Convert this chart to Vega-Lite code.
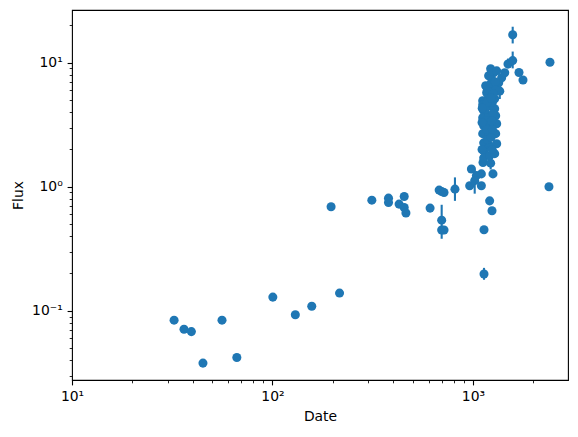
{
  "$schema": "https://vega.github.io/schema/vega-lite/v6.json",
  "width": 496,
  "height": 370,
  "autosize": "none",
  "padding": {"left": 72, "top": 10, "right": 10, "bottom": 57},
  "background": "white",
  "config": {
    "view": {"stroke": "#000000", "strokeWidth": 1.1},
    "axis": {
      "grid": false,
      "domain": false,
      "tickColor": "#000000",
      "tickWidth": 1.1,
      "labelColor": "#000000",
      "labelFont": "DejaVu Sans",
      "labelFontSize": 13.9,
      "titleFont": "DejaVu Sans",
      "titleFontSize": 13.9,
      "titleFontWeight": "normal",
      "titleColor": "#000000"
    }
  },
  "data": {
    "values": [
      {"x": 32.3, "y": 0.0841},
      {"x": 36.2, "y": 0.0711},
      {"x": 39.4, "y": 0.068},
      {"x": 45.0, "y": 0.0379},
      {"x": 56.0, "y": 0.0841},
      {"x": 66.4, "y": 0.042},
      {"x": 100.4, "y": 0.129},
      {"x": 130, "y": 0.093},
      {"x": 157, "y": 0.109},
      {"x": 216, "y": 0.139},
      {"x": 196, "y": 0.69},
      {"x": 313, "y": 0.78},
      {"x": 379, "y": 0.81},
      {"x": 379, "y": 0.746},
      {"x": 428, "y": 0.725},
      {"x": 454, "y": 0.836},
      {"x": 454, "y": 0.68},
      {"x": 463, "y": 0.614},
      {"x": 611, "y": 0.673},
      {"x": 678, "y": 0.94},
      {"x": 698, "y": 0.916},
      {"x": 717, "y": 0.9},
      {"x": 698, "y": 0.538, "lo": 0.381, "hi": 0.716},
      {"x": 698, "y": 0.448},
      {"x": 717, "y": 0.448},
      {"x": 813, "y": 0.957, "lo": 0.77, "hi": 1.19},
      {"x": 982, "y": 1.39},
      {"x": 963, "y": 1.02},
      {"x": 1040, "y": 1.23},
      {"x": 1020, "y": 1.12, "lo": 0.88, "hi": 1.38},
      {"x": 1101, "y": 1.27},
      {"x": 1101, "y": 1.02},
      {"x": 1258, "y": 1.27},
      {"x": 1122, "y": 1.57},
      {"x": 1225, "y": 1.55, "lo": 1.38, "hi": 1.72},
      {"x": 1211, "y": 0.77},
      {"x": 1244, "y": 0.64},
      {"x": 1135, "y": 0.45},
      {"x": 1135, "y": 0.198, "lo": 0.178, "hi": 0.222},
      {"x": 1118, "y": 4.94},
      {"x": 1118, "y": 4.58},
      {"x": 1131, "y": 4.1},
      {"x": 1118, "y": 3.6},
      {"x": 1131, "y": 3.1},
      {"x": 1118, "y": 2.68},
      {"x": 1131, "y": 2.26},
      {"x": 1131, "y": 1.95},
      {"x": 1131, "y": 1.71},
      {"x": 1197, "y": 5.42},
      {"x": 1211, "y": 4.5},
      {"x": 1197, "y": 3.74},
      {"x": 1211, "y": 3.1},
      {"x": 1197, "y": 2.58},
      {"x": 1211, "y": 2.14},
      {"x": 1211, "y": 1.78},
      {"x": 1268, "y": 8.31},
      {"x": 1254, "y": 7.16},
      {"x": 1268, "y": 6.17},
      {"x": 1283, "y": 5.13},
      {"x": 1283, "y": 4.26},
      {"x": 1298, "y": 3.74},
      {"x": 1313, "y": 3.22},
      {"x": 1298, "y": 2.68},
      {"x": 1313, "y": 2.22},
      {"x": 1283, "y": 1.85},
      {"x": 1225, "y": 8.95},
      {"x": 1197, "y": 7.86},
      {"x": 1157, "y": 6.52},
      {"x": 1170, "y": 5.73},
      {"x": 1240, "y": 8.6},
      {"x": 1313, "y": 8.6},
      {"x": 1344, "y": 6.9},
      {"x": 1390, "y": 7.57},
      {"x": 1440, "y": 8.31},
      {"x": 1360, "y": 5.9, "lo": 5.1, "hi": 6.8},
      {"x": 1150, "y": 4.2},
      {"x": 1160, "y": 3.4},
      {"x": 1170, "y": 2.9},
      {"x": 1180, "y": 2.4},
      {"x": 1250, "y": 4.8},
      {"x": 1260, "y": 3.9},
      {"x": 1240, "y": 3.4},
      {"x": 1250, "y": 2.9},
      {"x": 1230, "y": 2.5},
      {"x": 1245, "y": 2.0},
      {"x": 1180, "y": 6.0},
      {"x": 1230, "y": 6.8},
      {"x": 1290, "y": 7.0},
      {"x": 1300, "y": 6.0},
      {"x": 1175, "y": 4.8},
      {"x": 1260, "y": 5.6},
      {"x": 1230, "y": 5.2},
      {"x": 1110, "y": 2.0},
      {"x": 1110, "y": 3.3},
      {"x": 1112, "y": 4.3},
      {"x": 1495, "y": 9.76, "lo": 9.0, "hi": 10.8},
      {"x": 1578, "y": 10.4, "lo": 9.0, "hi": 12.3},
      {"x": 1578, "y": 16.8, "lo": 14.3, "hi": 19.5},
      {"x": 1696, "y": 8.35},
      {"x": 1776, "y": 7.25},
      {"x": 2421, "y": 10.1},
      {"x": 2393, "y": 1.0}
    ]
  },
  "encoding": {
    "x": {
      "field": "x",
      "type": "quantitative",
      "scale": {"type": "log", "domain": [10, 2978], "nice": false},
      "axis": {
        "title": "Date",
        "titlePadding": 6,
        "labelPadding": 4.9,
        "values": [10, 20, 30, 40, 50, 60, 70, 80, 90, 100, 200, 300, 400, 500, 600, 700, 800, 900, 1000, 2000],
        "labelExpr": "datum.value === 10 ? '10¹' : datum.value === 100 ? '10²' : datum.value === 1000 ? '10³' : ''",
        "tickSize": {"condition": {"test": "indexof([10, 100, 1000], datum.value) >= 0", "value": 4.9}, "value": 2.8},
        "tickWidth": {"condition": {"test": "indexof([10, 100, 1000], datum.value) >= 0", "value": 1.1}, "value": 0.85},
        "labelFlush": false,
        "labelOverlap": false
      }
    },
    "y": {
      "field": "y",
      "type": "quantitative",
      "scale": {"type": "log", "domain": [0.0277, 26.6], "nice": false},
      "axis": {
        "title": "Flux",
        "titlePadding": 6,
        "labelPadding": 4.9,
        "values": [0.03, 0.04, 0.05, 0.06, 0.07, 0.08, 0.09, 0.1, 0.2, 0.3, 0.4, 0.5, 0.6, 0.7, 0.8, 0.9, 1, 2, 3, 4, 5, 6, 7, 8, 9, 10, 20],
        "labelExpr": "datum.value === 0.1 ? '10⁻¹' : datum.value === 1 ? '10⁰' : datum.value === 10 ? '10¹' : ''",
        "tickSize": {"condition": {"test": "indexof([0.1, 1, 10], datum.value) >= 0", "value": 4.9}, "value": 2.8},
        "tickWidth": {"condition": {"test": "indexof([0.1, 1, 10], datum.value) >= 0", "value": 1.1}, "value": 0.85},
        "labelFlush": false,
        "labelOverlap": false
      }
    }
  },
  "layer": [
    {
      "transform": [{"filter": "datum.lo != null"}],
      "mark": {"type": "rule", "color": "#1f77b4", "strokeWidth": 2.1},
      "encoding": {
        "y": {"field": "lo", "type": "quantitative"},
        "y2": {"field": "hi"}
      }
    },
    {
      "mark": {"type": "circle", "color": "#1f77b4", "opacity": 1, "size": 82}
    }
  ]
}
